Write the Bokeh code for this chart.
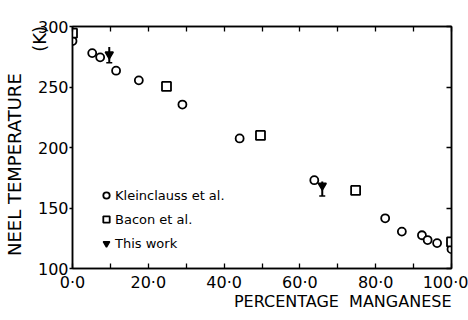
from bokeh.plotting import figure
from bokeh.models import (ColumnDataSource, Legend, LegendItem, LinearAxis,
                          FixedTicker, Whisker, TeeHead, Range1d, Title)
from bokeh.embed import file_html
from bokeh.resources import INLINE

# ---- data ----
klein_x = [0.0, 5.2, 7.3, 11.5, 17.5, 29.0, 44.1, 63.8, 82.5, 86.9, 92.2, 93.7, 96.2, 100.0]
klein_y = [288, 278, 274.5, 263.5, 255.5, 235.5, 207.5, 173, 141.5, 130.5, 127.5, 123.5, 121, 116]

bacon_x = [0.0, 24.8, 49.6, 74.7, 100.0]
bacon_y = [294.5, 250.5, 210, 164.5, 122]

this_x = [9.7, 65.9]
this_y = [277, 168.5]
this_lo = [270, 160]
this_hi = [283, 172]

x_ticks = [0, 20, 40, 60, 80, 100]
x_minor = [10, 30, 50, 70, 90]
x_tick_labels = ["0·0", "20·0", "40·0", "60·0", "80·0", "100·0"]
y_ticks = [100, 150, 200, 250, 300]
y_tick_labels = ["100", "150", "200", "250", "300"]

y_title = "NEEL TEMPERATURE"
y_unit = "(K)"
x_title = "PERCENTAGE\u00a0 MANGANESE"
legend_labels = ["Kleinclauss et al.", "Bacon et al.", "This work"]

FONT = "DejaVu Sans"
NB = "\u00a0"

p = figure(width=468, height=320, output_backend="svg", toolbar_location=None,
           x_range=Range1d(0, 100), y_range=Range1d(100, 300),
           x_axis_type=None, y_axis_type=None,
           min_border_left=68, min_border_right=17, min_border_top=26, min_border_bottom=52)
p.grid.visible = False
p.outline_line_color = "black"
p.outline_line_width = 1.5
p.background_fill_color = "white"
p.border_fill_color = "white"


def make_axis(ticks, labels, minor, show_labels):
    ax = LinearAxis(ticker=FixedTicker(ticks=ticks, minor_ticks=minor))
    ax.major_label_overrides = {t: l for t, l in zip(ticks, labels)}
    ax.axis_line_color = "black"
    ax.axis_line_width = 1.5
    ax.major_tick_line_color = "black"
    ax.major_tick_line_width = 1.3
    ax.minor_tick_line_color = "black"
    ax.minor_tick_line_width = 1.3
    ax.major_label_text_font = FONT
    ax.major_label_text_color = "black"
    ax.major_label_text_font_size = "16px"
    if not show_labels:
        ax.major_label_text_alpha = 0
        ax.major_label_standoff = 0
    return ax


# bottom axis
xb = make_axis(x_ticks, x_tick_labels, x_minor, True)
xb.major_tick_in = 5; xb.major_tick_out = 0
xb.minor_tick_in = 5; xb.minor_tick_out = 0
xb.major_label_standoff = 4
p.add_layout(xb, "below")
# top axis (ticks only)
xt = make_axis(x_ticks, ["", "", "", "", "", ""], x_minor, False)
xt.major_tick_in = 5; xt.major_tick_out = 0
xt.minor_tick_in = 5; xt.minor_tick_out = 0
p.add_layout(xt, "above")
# left axis with two-line title
yl = make_axis(y_ticks, y_tick_labels, [], True)
yl.major_tick_in = 0; yl.major_tick_out = 3
yl.major_label_standoff = 1
yl.axis_label = NB * 2 + y_title + NB * 8 + "\n" + NB * 38 + y_unit
yl.axis_label_text_font = FONT
yl.axis_label_text_font_size = "18px"
yl.axis_label_text_font_style = "normal"
yl.axis_label_text_color = "black"
yl.axis_label_standoff = -15
p.add_layout(yl, "left")
# right axis (ticks only)
yr = make_axis(y_ticks, ["", "", "", "", ""], [], False)
yr.major_tick_in = 5; yr.major_tick_out = 0
p.add_layout(yr, "right")

# x title, right aligned under the frame
p.add_layout(Title(text=x_title, align="right", text_font=FONT, text_font_size="16px",
                   text_font_style="normal", text_color="black", standoff=-9, offset=0),
             "below")

# data
r_k = p.scatter(klein_x, klein_y, marker="circle", size=8, fill_color="white",
                line_color="black", line_width=1.8)
r_b = p.scatter(bacon_x, bacon_y, marker="square", size=9, fill_color="white",
                line_color="black", line_width=1.8)
src_t = ColumnDataSource(dict(x=this_x, y=this_y, lo=this_lo, hi=this_hi))
w = Whisker(source=src_t, base="x", lower="lo", upper="hi", line_color="black",
            line_width=2,
            lower_head=TeeHead(size=6, line_color="black", line_width=1.5),
            upper_head=TeeHead(size=0, line_alpha=0))
p.add_layout(w)
r_t = p.scatter("x", "y", source=src_t, marker="inverted_triangle", size=8,
                fill_color="black", line_color="black", line_width=1.5)

legend = Legend(items=[LegendItem(label=legend_labels[0], renderers=[r_k]),
                       LegendItem(label=legend_labels[1], renderers=[r_b]),
                       LegendItem(label=legend_labels[2], renderers=[r_t])],
                location=(26, 16), orientation="vertical",
                background_fill_alpha=0, border_line_alpha=0,
                label_text_font=FONT, label_text_font_size="13px",
                label_text_color="black",
                glyph_width=16, glyph_height=18, label_height=18,
                spacing=6, padding=0, margin=0, label_standoff=1)
p.add_layout(legend, "center")

open("out.html", "w").write(file_html(p, INLINE))
